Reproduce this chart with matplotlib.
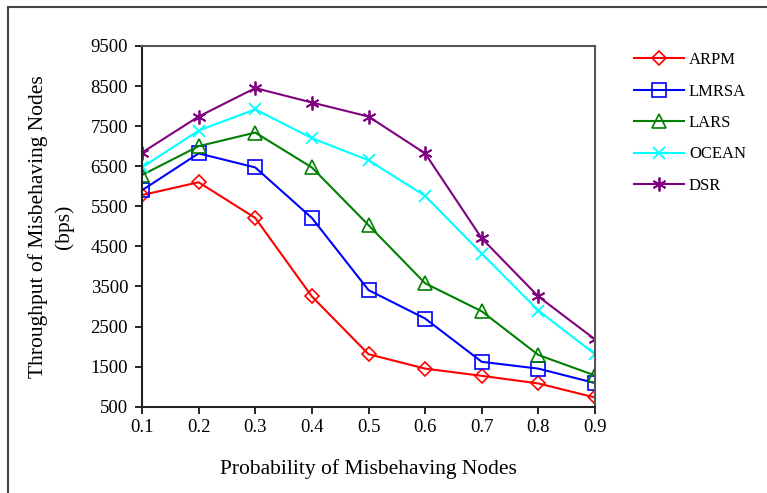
import matplotlib.pyplot as plt
from matplotlib.patches import Rectangle

# Data
prob = [0.1, 0.2, 0.3, 0.4, 0.5, 0.6, 0.7, 0.8, 0.9]
arpm = [5780, 6100, 5210, 3250, 1810, 1450, 1270, 1080, 730]
lmrsa = [5900, 6820, 6470, 5210, 3410, 2700, 1620, 1450, 1090]
lars = [6280, 7000, 7340, 6470, 5030, 3580, 2880, 1790, 1280]
ocean = [6470, 7390, 7920, 7200, 6650, 5760, 4320, 2900, 1810]
dsr = [6840, 7740, 8450, 8090, 7740, 6820, 4700, 3250, 2180]
yticks = [500, 1500, 2500, 3500, 4500, 5500, 6500, 7500, 8500, 9500]

plt.rcParams['font.family'] = ['Liberation Serif', 'DejaVu Serif']

fig = plt.figure(figsize=(7.67, 4.93), dpi=100)
ax = fig.add_axes([142/767, 1 - 406.7/493, (595 - 142)/767, (406.7 - 46)/493])

ax.plot(prob, arpm, color='#FF0000', marker='D', ms=7, mfc='none', mew=1.2, lw=1.5, label='ARPM')
ax.plot(prob, lmrsa, color='#0000FF', marker='s', ms=10, mfc='none', mew=1.2, lw=1.5, label='LMRSA')
ax.plot(prob, lars, color='#008000', marker='^', ms=10, mfc='none', mew=1.2, lw=1.5, label='LARS')
ax.plot(prob, ocean, color='#00FFFF', marker='x', ms=9, mew=1.3, lw=1.5, label='OCEAN')
ax.plot(prob, dsr, color='#800080', marker=(6, 2, 0), ms=10, mew=1.3, lw=1.5, label='DSR')

ax.set_xlim(0.1, 0.9)
ax.set_ylim(500, 9500)
ax.set_xticks(prob)
ax.set_xticklabels([f"{p:.1f}" for p in prob])
ax.set_yticks(yticks)
ax.tick_params(direction='out', length=5, width=1.2, labelsize=13.5, colors='black')
ax.tick_params(axis='y', pad=5)
for s in ['left', 'bottom']:
    ax.spines[s].set_linewidth(1.5)
    ax.spines[s].set_color('#222222')
for s in ['top', 'right']:
    ax.spines[s].set_linewidth(1.5)
    ax.spines[s].set_color('#555555')

ax.set_xlabel("Probability of Misbehaving Nodes", fontsize=15.5, labelpad=17)
ax.set_ylabel("Throughput of Misbehaving Nodes\n(bps)", fontsize=15.5, labelpad=12, linespacing=1.45)

fig.legend(loc='upper left', bbox_to_anchor=(619/767, 1 - 37/493), frameon=False,
           fontsize=12, handlelength=3, labelspacing=0.93, handletextpad=0.3)

# outer border (cut off on the right and bottom)
fig.patches.append(Rectangle((8/767, -0.1), 1.2, 1 - 7/493 + 0.1, transform=fig.transFigure,
                             fill=False, edgecolor='#444444', lw=1.5))

plt.savefig("out.png", dpi=100)
